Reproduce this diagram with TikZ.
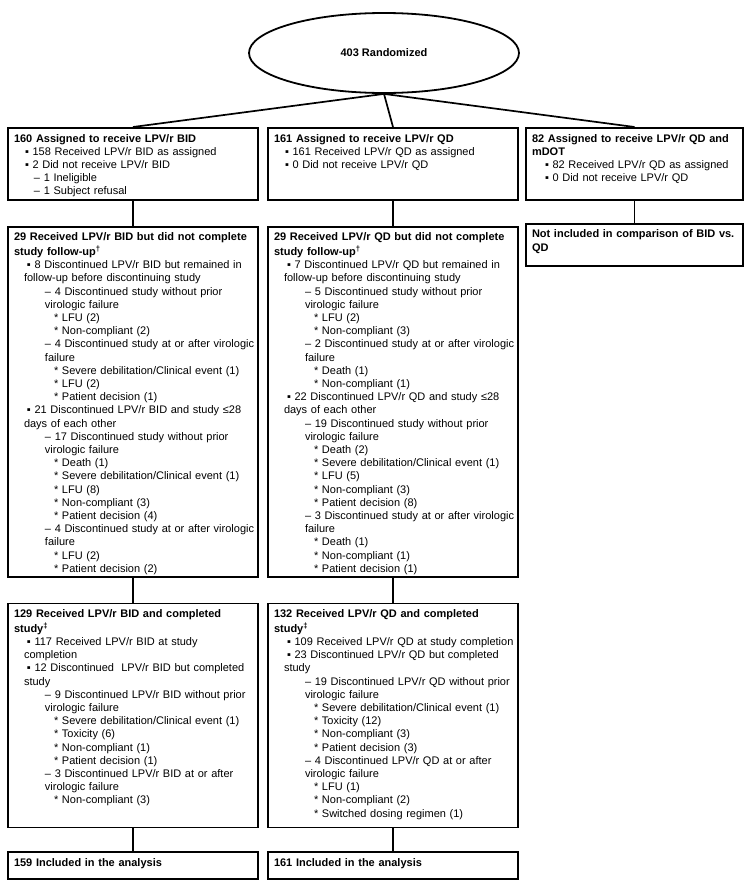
\documentclass[tikz,border=0pt]{standalone}
\usepackage{fontspec}
\setmainfont{Liberation Sans}
\usetikzlibrary{positioning,shapes.geometric}
\newcommand{\lvtop}{\hspace*{11pt}▪\ }
\newcommand{\lvtopd}{\hspace*{20pt}–\ }
\newcommand{\lva}{\hspace*{13pt}▪\ }
\newcommand{\lvac}{\hspace*{10pt}}
\newcommand{\lvb}{\hspace*{31pt}–\ }
\newcommand{\lvbc}{\hspace*{31pt}}
\newcommand{\lvc}{\hspace*{40pt}*\ }
\newcommand{\boxcell}[2]{\parbox[t][#1][t]{270pt}{\strut#2}}
\tikzset{
   flow/.style={draw, line width=1.8pt, fill=white, inner xsep=6pt, inner ysep=5pt,
      align=left, text width=238pt, anchor=north, font=\fontsize{11}{13.2}\selectfont},
   narrow/.style={text width=205pt},
   link/.style={line width=1.7pt}
}
\begin{document}
\begin{tikzpicture}[x=1pt, y=-1pt]
   \useasboundingbox (0,0) rectangle (750,884);
   \node (R) [ellipse, draw, line width=1.8pt, minimum width=270pt, minimum height=80pt,
      inner sep=0pt, font=\bfseries\fontsize{11}{13.2}\selectfont] at (384,53) {403 Randomized};
   \node (B1) [flow] at (133,127) {\boxcell{62pt}{\textbf{160 Assigned to receive LPV/r BID}\\
      \lvtop 158 Received LPV/r BID as assigned\\
      \lvtop 2 Did not receive LPV/r BID\\
      \lvtopd 1 Ineligible\\
      \lvtopd 1 Subject refusal}};
   \node (Q1) [flow] at (393,127) {\boxcell{62pt}{\textbf{161 Assigned to receive LPV/r QD}\\
      \lvtop 161 Received LPV/r QD as assigned\\
      \lvtop 0 Did not receive LPV/r QD}};
   \node (M1) [flow, narrow] at (634.5,127) {\boxcell{62pt}{\textbf{82 Assigned to receive LPV/r QD and}\\
      \textbf{mDOT}\\
      \lva 82 Received LPV/r QD as assigned\\
      \lva 0 Did not receive LPV/r QD}};
   \node (B2) [flow, below=25pt of B1] {\boxcell{340pt}{\textbf{29 Received LPV/r BID but did not complete}\\
      \textbf{study follow-up\textsuperscript{†}}\\
      \lva 8 Discontinued LPV/r BID but remained in\\
      \lvac follow-up before discontinuing study\\
      \lvb 4 Discontinued study without prior\\
      \lvbc virologic failure\\
      \lvc LFU (2)\\
      \lvc Non-compliant (2)\\
      \lvb 4 Discontinued study at or after virologic\\
      \lvbc failure\\
      \lvc Severe debilitation/Clinical event (1)\\
      \lvc LFU (2)\\
      \lvc Patient decision (1)\\
      \lva 21 Discontinued LPV/r BID and study ≤28\\
      \lvac days of each other\\
      \lvb 17 Discontinued study without prior\\
      \lvbc virologic failure\\
      \lvc Death (1)\\
      \lvc Severe debilitation/Clinical event (1)\\
      \lvc LFU (8)\\
      \lvc Non-compliant (3)\\
      \lvc Patient decision (4)\\
      \lvb 4 Discontinued study at or after virologic\\
      \lvbc failure\\
      \lvc LFU (2)\\
      \lvc Patient decision (2)}};
   \node (Q2) [flow, below=25pt of Q1] {\boxcell{340pt}{\textbf{29 Received LPV/r QD but did not complete}\\
      \textbf{study follow-up\textsuperscript{†}}\\
      \lva 7 Discontinued LPV/r QD but remained in\\
      \lvac follow-up before discontinuing study\\
      \lvb 5 Discontinued study without prior\\
      \lvbc virologic failure\\
      \lvc LFU (2)\\
      \lvc Non-compliant (3)\\
      \lvb 2 Discontinued study at or after virologic\\
      \lvbc failure\\
      \lvc Death (1)\\
      \lvc Non-compliant (1)\\
      \lva 22 Discontinued LPV/r QD and study ≤28\\
      \lvac days of each other\\
      \lvb 19 Discontinued study without prior\\
      \lvbc virologic failure\\
      \lvc Death (2)\\
      \lvc Severe debilitation/Clinical event (1)\\
      \lvc LFU (5)\\
      \lvc Non-compliant (3)\\
      \lvc Patient decision (8)\\
      \lvb 3 Discontinued study at or after virologic\\
      \lvbc failure\\
      \lvc Death (1)\\
      \lvc Non-compliant (1)\\
      \lvc Patient decision (1)}};
   \node (M2) [flow, narrow, below=22pt of M1] {\boxcell{32pt}{\textbf{Not included in comparison of BID vs.}\\
      \textbf{QD}}};
   \node (B3) [flow, below=25pt of B2] {\boxcell{214pt}{\textbf{129 Received LPV/r BID and completed}\\
      \textbf{study\textsuperscript{‡}}\\
      \lva 117 Received LPV/r BID at study\\
      \lvac completion\\
      \lva 12 Discontinued~ LPV/r BID but completed\\
      \lvac study\\
      \lvb 9 Discontinued LPV/r BID without prior\\
      \lvbc virologic failure\\
      \lvc Severe debilitation/Clinical event (1)\\
      \lvc Toxicity (6)\\
      \lvc Non-compliant (1)\\
      \lvc Patient decision (1)\\
      \lvb 3 Discontinued LPV/r BID at or after\\
      \lvbc virologic failure\\
      \lvc Non-compliant (3)}};
   \node (Q3) [flow, below=25pt of Q2] {\boxcell{214pt}{\textbf{132 Received LPV/r QD and completed}\\
      \textbf{study\textsuperscript{‡}}\\
      \lva 109 Received LPV/r QD at study completion\\
      \lva 23 Discontinued LPV/r QD but completed\\
      \lvac study\\
      \lvb 19 Discontinued LPV/r QD without prior\\
      \lvbc virologic failure\\
      \lvc Severe debilitation/Clinical event (1)\\
      \lvc Toxicity (12)\\
      \lvc Non-compliant (3)\\
      \lvc Patient decision (3)\\
      \lvb 4 Discontinued LPV/r QD at or after\\
      \lvbc virologic failure\\
      \lvc LFU (1)\\
      \lvc Non-compliant (2)\\
      \lvc Switched dosing regimen (1)}};
   \node (B4) [flow, below=23pt of B3] {\boxcell{17pt}{\textbf{159 Included in the analysis}}};
   \node (Q4) [flow, below=23pt of Q3] {\boxcell{17pt}{\textbf{161 Included in the analysis}}};
   \path[link]
     (R.south) edge (B1.north)
               edge (Q1.north)
               edge (M1.north);
   \path[link]
     (B1) edge (B2) (B2) edge (B3) (B3) edge (B4)
     (Q1) edge (Q2) (Q2) edge (Q3) (Q3) edge (Q4)
     (M1) edge (M2);
\end{tikzpicture}
\end{document}
